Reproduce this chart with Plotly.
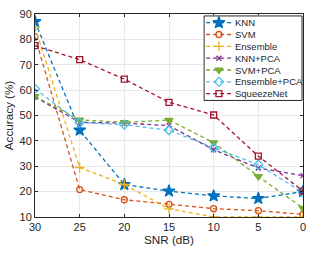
import plotly.graph_objects as go

snr = [30, 25, 20, 15, 10, 5, 0]
knn = [87, 44.2, 22.8, 20.2, 18.3, 17.3, 20.0]
svm = [81, 20.8, 16.8, 15.0, 13.3, 12.5, 11.0]
ensemble = [84.8, 29.5, 22.8, 13.2, 10.0, 10.0, 10.0]
knn_pca = [57.3, 47.3, 47.0, 46.0, 36.5, 29.3, 26.3]
svm_pca = [57.5, 48.3, 47.3, 48.2, 39.3, 26.0, 13.5]
ens_pca = [60.5, 47.2, 46.4, 44.2, 37.3, 30.6, 19.6]
squeeze = [77.5, 72.0, 64.3, 55.2, 50.2, 34.0, 20.2]

names = ["KNN", "SVM", "Ensemble", "KNN+PCA", "SVM+PCA", "Ensemble+PCA", "SqueezeNet"]
series = [knn, svm, ensemble, knn_pca, svm_pca, ens_pca, squeeze]
x_ticks = [30, 25, 20, 15, 10, 5, 0]
y_ticks = [10, 20, 30, 40, 50, 60, 70, 80, 90]

colors = ["#0072BD", "#D95319", "#EDB120", "#7E2F8E", "#77AC30", "#4DBEEE", "#A2142F"]
symbols = ["star", "circle-open", "cross-thin", "x-thin", "triangle-down", "diamond-open", "square-open"]
sizes = [9, 6, 7, 5, 7, 7, 6]
DASH = "4px,3px"
TXT = "#262626"

fig = go.Figure()
for n, s, c, sym, sz in zip(names, series, colors, symbols, sizes):
    fig.add_trace(go.Scatter(
        x=snr, y=s, name=n, mode="lines+markers", showlegend=False,
        line=dict(color=c, dash=DASH, width=1.3),
        marker=dict(symbol=sym, size=sz, color=c, line=dict(color=c, width=1.3)),
    ))

# custom compact legend drawn in an overlay subplot
LW = 99.0
box_x = [0, LW, LW, 0, 0]
box_y = [-0.57, -0.57, 6.57, 6.57, -0.57]
fig.add_trace(go.Scatter(x=box_x, y=box_y, xaxis="x2", yaxis="y2", mode="lines",
                         fill="toself", fillcolor="white",
                         line=dict(color=TXT, width=1), showlegend=False, hoverinfo="skip"))
for i, (n, c, sym, sz) in enumerate(zip(names, colors, symbols, sizes)):
    fig.add_trace(go.Scatter(x=[2, 28], y=[i, i], xaxis="x2", yaxis="y2", mode="lines",
                             line=dict(color=c, dash=DASH, width=1.3),
                             showlegend=False, hoverinfo="skip"))
    fig.add_trace(go.Scatter(x=[15], y=[i], xaxis="x2", yaxis="y2", mode="markers",
                             marker=dict(symbol=sym, size=sz, color=c, line=dict(color=c, width=1.3)),
                             showlegend=False, hoverinfo="skip"))
    fig.add_annotation(x=29.5, y=i, xref="x2", yref="y2", text=n, showarrow=False,
                       xanchor="left", yanchor="middle", font=dict(size=9.5, color=TXT))

axis_common = dict(
    showline=True, linecolor=TXT, linewidth=1, mirror="ticks",
    showgrid=True, gridcolor="#e8e8e8", gridwidth=1,
    ticks="inside", ticklen=3, tickcolor=TXT,
    tickfont=dict(size=11, color=TXT), zeroline=False,
)
fig.update_layout(
    xaxis=dict(range=[30, 0], tickvals=x_ticks,
               title=dict(text="SNR (dB)", font=dict(size=11.7, color=TXT), standoff=3),
               **axis_common),
    yaxis=dict(range=[10, 90], tickvals=y_ticks,
               title=dict(text="Accuracy (%)", font=dict(size=11.7, color=TXT), standoff=3),
               **axis_common),
    xaxis2=dict(domain=[0.6273, 1.0], range=[-1, LW + 1], anchor="y2",
                visible=False, fixedrange=True),
    yaxis2=dict(domain=[0.5694, 0.9952], range=[6.652, -0.652], anchor="x2",
                visible=False, fixedrange=True),
    width=314, height=254,
    margin=dict(l=34, r=9, t=8, b=37),
    paper_bgcolor="white", plot_bgcolor="white",
    font=dict(family="Liberation Sans, Arial, sans-serif", color=TXT),
    showlegend=False,
)
fig.write_html("out.html", config={"displayModeBar": False},
               post_script="document.body.style.margin='0';")
